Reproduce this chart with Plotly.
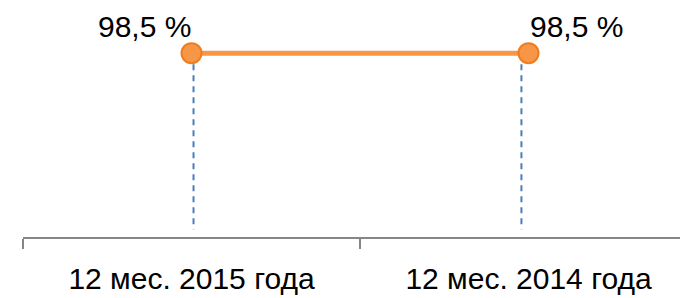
import plotly.graph_objects as go

categories = ["12 мес. 2015 года", "12 мес. 2014 года"]
values = [98.5, 98.5]
label_anchors = ["right", "left"]
drop_shifts = [0.006, -0.021]

FONT = "Liberation Sans Narrow, Arial Narrow, Liberation Sans, Arial, sans-serif"
ORANGE = "#F79646"

fig = go.Figure()
fig.add_trace(go.Scatter(
    x=categories, y=values, mode="lines+markers",
    line=dict(color=ORANGE, width=5),
    marker=dict(size=20, color=ORANGE, line=dict(color="#F07C20", width=2)),
    hoverinfo="skip", showlegend=False,
))

shapes = []
for c, v, s in zip(categories, values, drop_shifts):
    shapes.append(dict(type="line", xref="x", yref="y", x0=c, x1=c, x0shift=s, x1shift=s,
                       y0=v, y1=4, line=dict(color="#4A7EBB", width=2, dash="6px,5px"),
                       layer="below"))

annotations = []
for c, v, a in zip(categories, values, label_anchors):
    annotations.append(dict(x=c, y=v, xref="x", yref="y", xanchor=a, yanchor="bottom",
                            yshift=9, borderpad=0, showarrow=False,
                            text=f"{v:.1f}".replace(".", ",") + " %",
                            font=dict(family=FONT, size=30, color="black")))

fig.update_layout(
    width=688, height=298,
    margin=dict(l=15, r=0, t=5, b=69),
    paper_bgcolor="white", plot_bgcolor="white",
    shapes=shapes, annotations=annotations,
    xaxis=dict(type="category", range=[-0.5, 1.497], tickson="boundaries", automargin=False,
               showline=True, linecolor="#868686", linewidth=2,
               ticks="outside", ticklen=10, tickwidth=2, tickcolor="#868686",
               ticklabelstandoff=14,
               showgrid=False, zeroline=False,
               tickfont=dict(family=FONT, size=30, color="black")),
    yaxis=dict(range=[0, 120], visible=False, showgrid=False, zeroline=False, automargin=False),
)

fig.write_html("out.html")
